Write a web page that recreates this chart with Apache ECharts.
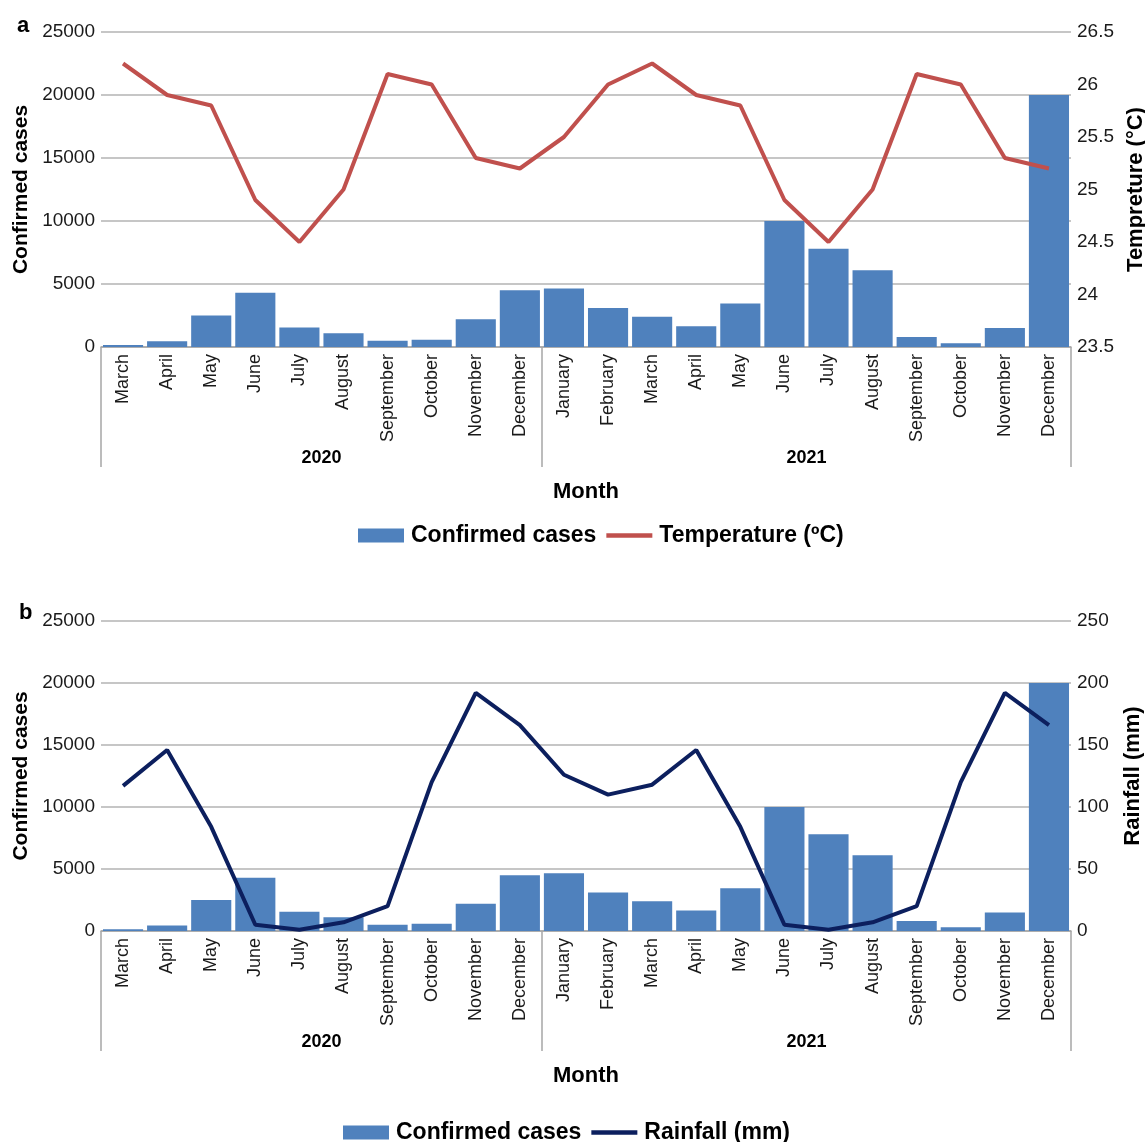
<!DOCTYPE html>
<html>
<head>
<meta charset="utf-8">
<title>Confirmed cases, temperature and rainfall</title>
<script src="https://cdn.jsdelivr.net/npm/echarts@6/dist/echarts.min.js"></script>
<style>
  html, body { margin: 0; padding: 0; background: #fff; }
  #main { width: 1145px; height: 1142px; }
</style>
</head>
<body>
<div id="main"></div>
<script>
// months March 2020 .. December 2021
var months = ['March', 'April', 'May', 'June', 'July', 'August', 'September', 'October', 'November', 'December',
  'January', 'February', 'March', 'April', 'May', 'June', 'July', 'August', 'September', 'October', 'November', 'December'];
var years = ['2020', '2021'];
var yearSpans = [10, 12];

var confirmedCases = [150, 450, 2500, 4300, 1550, 1100, 500, 580, 2200, 4500,
  4650, 3100, 2400, 1650, 3450, 10000, 7800, 6100, 800, 300, 1500, 20000];
var temperature = [26.2, 25.9, 25.8, 24.9, 24.5, 25.0, 26.1, 26.0, 25.3, 25.2,
  25.5, 26.0, 26.2, 25.9, 25.8, 24.9, 24.5, 25.0, 26.1, 26.0, 25.3, 25.2];
var rainfall = [117, 146, 84, 5, 1, 7, 20, 120, 192, 166,
  126, 110, 118, 146, 84, 5, 1, 7, 20, 120, 192, 166];

var FONT = 'Liberation Sans, Arial, sans-serif';
var GRID_COLOR = '#b3b3b3';
var AXIS_COLOR = '#a6a6a6';
var TEXT_COLOR = '#1a1a1a';
var LINE_ICON = 'path://M0,0 H100 V10 H0 Z';

/* year axis: points on category boundaries, label in the middle of each span */
var yearAxisData = [];
var yearBounds = [0];
(function () {
  var total = 0;
  yearSpans.forEach(function (s) { total += s; yearBounds.push(total); });
  for (var i = 0; i <= total; i++) yearAxisData.push('');
  years.forEach(function (y, k) {
    yearAxisData[yearBounds[k] + yearSpans[k] / 2] = y;
  });
})();

function monthAxis(gridIndex) {
  return {
    type: 'category',
    gridIndex: gridIndex,
    data: months,
    position: 'bottom',
    axisLine: { show: true, lineStyle: { color: AXIS_COLOR, width: 1.5 } },
    axisTick: { show: false },
    axisLabel: {
      interval: 0, rotate: 90, margin: 7,
      fontFamily: FONT, fontSize: 18, color: TEXT_COLOR
    }
  };
}

function yearAxis(gridIndex) {
  return {
    type: 'category',
    gridIndex: gridIndex,
    data: yearAxisData,
    boundaryGap: false,
    position: 'bottom',
    name: 'Month',
    nameLocation: 'middle',
    nameGap: 134,
    nameTextStyle: { fontFamily: FONT, fontSize: 22, fontWeight: 'bold', color: '#000' },
    axisLine: { show: false },
    axisTick: {
      show: true, length: 120,
      interval: function (index) { return yearBounds.indexOf(index) >= 0; },
      lineStyle: { color: AXIS_COLOR, width: 1.5 }
    },
    axisLabel: {
      interval: function (index, value) { return value !== ''; },
      margin: 102,
      fontFamily: FONT, fontSize: 18, fontWeight: 'bold', color: '#000'
    },
    splitLine: { show: false }
  };
}

function casesAxis(gridIndex) {
  return {
    type: 'value',
    gridIndex: gridIndex,
    position: 'left',
    min: 0, max: 25000, interval: 5000,
    name: 'Confirmed cases',
    nameLocation: 'middle',
    nameRotate: 90,
    nameGap: 68,
    nameTextStyle: { fontFamily: FONT, fontSize: 21, fontWeight: 'bold', color: '#000' },
    axisLine: { show: false },
    axisTick: { show: false },
    axisLabel: {
      margin: 6, fontFamily: FONT, fontSize: 19, color: TEXT_COLOR,
      formatter: function (v) { return String(v); }
    },
    splitLine: { show: true, lineStyle: { color: GRID_COLOR, width: 1.5 } }
  };
}

function sideAxis(gridIndex, name, min, max, step) {
  return {
    type: 'value', gridIndex: gridIndex, position: 'right',
    min: min, max: max, interval: step,
    name: name, nameLocation: 'middle', nameRotate: 90, nameGap: 51,
    nameTextStyle: { fontFamily: FONT, fontSize: 22, fontWeight: 'bold', color: '#000' },
    axisLine: { show: false }, axisTick: { show: false },
    axisLabel: {
      margin: 6, fontFamily: FONT, fontSize: 19, color: TEXT_COLOR,
      formatter: function (v) { return String(v); }
    },
    splitLine: { show: false }
  };
}

var legendText = { fontFamily: FONT, fontSize: 23, fontWeight: 'bold', color: '#000', padding: [0, 0, 0, 2] };

var option = {
  animation: false,
  backgroundColor: '#fff',
  title: [
    { text: 'a', left: 12, top: 10, textStyle: { fontFamily: FONT, fontSize: 22, fontWeight: 'bold', color: '#000' } },
    { text: 'b', left: 14, top: 597, textStyle: { fontFamily: FONT, fontSize: 22, fontWeight: 'bold', color: '#000' } }
  ],
  grid: [
    { left: 101, right: 74, top: 32, height: 315, outerBoundsMode: 'none' },
    { left: 101, right: 74, top: 621, height: 310, outerBoundsMode: 'none' }
  ],
  legend: [
    {
      data: [{ name: 'Confirmed cases', icon: 'rect' }, { name: 'Temperature (ºC)', icon: LINE_ICON }],
      left: 353, top: 519,
      itemWidth: 46, itemHeight: 14, itemGap: 10,
      textStyle: legendText
    },
    {
      data: [{ name: 'Confirmed cases', icon: 'rect' }, { name: 'Rainfall (mm)', icon: LINE_ICON }],
      left: 338, top: 1116,
      itemWidth: 46, itemHeight: 14, itemGap: 10,
      textStyle: legendText
    }
  ],
  xAxis: [monthAxis(0), yearAxis(0), monthAxis(1), yearAxis(1)],
  yAxis: [
    casesAxis(0),
    sideAxis(0, 'Tempreture (°C)', 23.5, 26.5, 0.5),
    casesAxis(1),
    sideAxis(1, 'Rainfall (mm)', 0, 250, 50)
  ],
  series: [
    {
      name: 'Confirmed cases', type: 'bar', xAxisIndex: 0, yAxisIndex: 0,
      barCategoryGap: '9%',
      itemStyle: { color: '#4f81bd' },
      data: confirmedCases
    },
    {
      name: 'Temperature (ºC)', type: 'line', xAxisIndex: 0, yAxisIndex: 1,
      symbol: 'none',
      lineStyle: { color: '#c0504d', width: 4 },
      itemStyle: { color: '#c0504d' },
      data: temperature
    },
    {
      name: 'Confirmed cases', type: 'bar', xAxisIndex: 2, yAxisIndex: 2,
      barCategoryGap: '9%',
      itemStyle: { color: '#4f81bd' },
      data: confirmedCases
    },
    {
      name: 'Rainfall (mm)', type: 'line', xAxisIndex: 2, yAxisIndex: 3,
      symbol: 'none',
      lineStyle: { color: '#0c1f5e', width: 4 },
      itemStyle: { color: '#0c1f5e' },
      data: rainfall
    }
  ]
};

var chart = echarts.init(document.getElementById('main'));
chart.setOption(option);
</script>
</body>
</html>
